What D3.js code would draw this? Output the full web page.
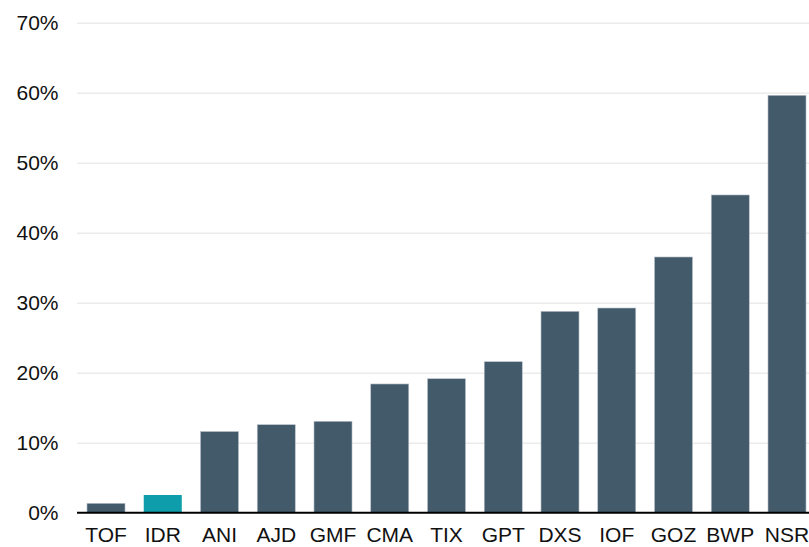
<!DOCTYPE html>
<html>
<head>
<meta charset="utf-8">
<script src="https://cdn.jsdelivr.net/npm/d3@7"></script>
<style>
  html, body { margin: 0; padding: 0; background: #fff; }
  svg { display: block; font-family: "Liberation Sans", Arial, sans-serif; }
</style>
</head>
<body>
<svg id="chart" width="809" height="547"></svg>
<script>
// Share of total (%) by ticker
const categories = ["TOF", "IDR", "ANI", "AJD", "GMF", "CMA", "TIX", "GPT", "DXS", "IOF", "GOZ", "BWP", "NSR"];
const values = [1.34, 2.53, 11.6, 12.57, 13.06, 18.39, 19.14, 21.57, 28.77, 29.24, 36.53, 45.39, 59.63];
const highlighted = ["IDR"];
const yTicks = [0, 10, 20, 30, 40, 50, 60, 70];

const svg = d3.select("#chart");
const W = 809, H = 547;
const plotLeft = 77, plotTop = 22.7, plotBottom = 512.7;
const labelSize = 21;

const x = d3.scaleBand()
  .domain(categories)
  .range([plotLeft, 816])
  .paddingInner(0.33)
  .paddingOuter(0.176);

const y = d3.scaleLinear().domain([0, 70]).range([plotBottom, plotTop]);

// horizontal gridlines
const grid = svg.append("g")
  .attr("transform", `translate(${plotLeft},0)`)
  .call(d3.axisRight(y).tickValues(yTicks.slice(1)).tickSize(W - plotLeft).tickFormat(""));
grid.select(".domain").remove();
grid.selectAll("line").attr("stroke", "#ebebeb").attr("stroke-width", 1.5);

// y-axis labels
const yAxis = svg.append("g")
  .attr("transform", "translate(58.5,0)")
  .call(d3.axisLeft(y).tickValues(yTicks).tickSize(0).tickPadding(0).tickFormat(d => d + "%"));
yAxis.select(".domain").remove();
yAxis.selectAll("text")
  .attr("font-size", labelSize)
  .attr("font-family", "Liberation Sans, Arial, sans-serif")
  .attr("fill", "#111");

// bars
svg.append("g").selectAll("rect")
  .data(categories.map((c, i) => ({ c, v: values[i] })))
  .join("rect")
  .attr("x", d => x(d.c))
  .attr("width", x.bandwidth())
  .attr("y", d => y(d.v))
  .attr("height", d => y(0) - y(d.v))
  .attr("fill", d => highlighted.includes(d.c) ? "#0e9eab" : "#435a6b")
  .attr("stroke", d => highlighted.includes(d.c) ? "none" : "#b9c2ca")
  .attr("stroke-width", 0.6);

// category labels
const xAxis = svg.append("g")
  .attr("transform", `translate(0,${plotBottom})`)
  .call(d3.axisBottom(x).tickSize(0).tickPadding(14));
xAxis.select(".domain").remove();
xAxis.selectAll("text")
  .attr("font-size", labelSize)
  .attr("font-family", "Liberation Sans, Arial, sans-serif")
  .attr("fill", "#111");

// baseline
svg.append("line")
  .attr("x1", plotLeft).attr("x2", W)
  .attr("y1", y(0)).attr("y2", y(0))
  .attr("stroke", "#000").attr("stroke-width", 2);
</script>
</body>
</html>
